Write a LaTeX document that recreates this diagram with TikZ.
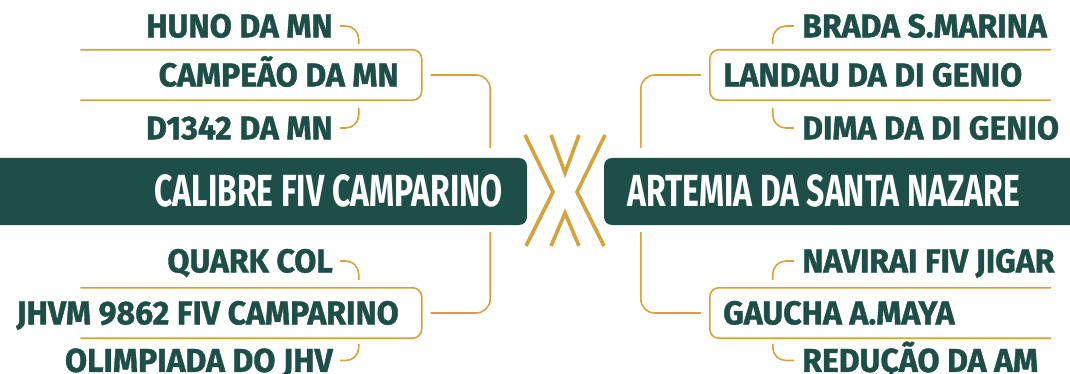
\documentclass[tikz,border=0pt]{standalone}
\usepackage{fontspec}
\setmainfont{Fira Sans}
\newfontfamily\leaffont{Fira Sans}[FakeStretch=0.97, BoldFeatures={FakeBold=1.2}]
\newfontfamily\headfont{Fira Sans}[FakeStretch=0.71]
\usetikzlibrary{positioning}
\definecolor{pine}{HTML}{1D4E47}
\definecolor{ochre}{HTML}{D8A23B}

\begin{document}
\begin{tikzpicture}[x=1pt, y=-1pt,
    head/.style={fill=pine, rounded corners=8pt, minimum height=67pt, inner sep=0},
    headtext/.style={text=white, font=\headfont\bfseries\fontsize{45}{45}\selectfont, inner sep=0, text height=31pt, text depth=0pt},
    leaf/.style={text=pine, font=\leaffont\bfseries\fontsize{33}{33}\selectfont, inner sep=0, text height=22.7pt, text depth=0pt},
    frame/.style={minimum width=341pt, minimum height=50pt, inner sep=0},
    rim/.style={draw=ochre, line width=1.6pt, rounded corners=9pt},
    link/.style={draw=ochre, line width=1.6pt, rounded corners=14pt},
    hook/.style={draw=ochre, line width=1.6pt, rounded corners=13pt},
    cross/.style={draw=ochre, line width=3.6pt, line join=miter}]
    \useasboundingbox (0,0) rectangle (1070,374);

    % main boxes
    \node[head, minimum width=547pt](calibrebox) at (253.5,191.5){};
    \node[headtext, anchor=east](calibre) at (503,191.5){CALIBRE FIV CAMPARINO};
    \node[head, minimum width=486pt](artemiabox) at (847,191.5){};
    \node[headtext, anchor=west](artemia) at (627,191.5){ARTEMIA DA SANTA NAZARE};

    % X in the middle
    \begin{scope}[shift={(565,191)}]
        \foreach \s in {1,-1}{
            \draw[cross, xscale=\s](-40,-56)--(-12,1)--(-39,55);
        }
        \draw[cross](-14,-56)--(0,-18)--(14,-56);
        \draw[cross](-14,55)--(0,22)--(14,55);
    \end{scope}

    % left side
    \node[frame](campeaoframe) at (251,75){};
    \draw[rim](campeaoframe.north west)-|(campeaoframe.south east)--(campeaoframe.south west);
    \node[leaf, anchor=east](campeao) at (399,75){CAMPEÃO DA MN};
    \node[leaf, anchor=east](huno) at (333,26){HUNO DA MN};
    \node[leaf, anchor=east](d1342) at (333,128){D1342 DA MN};
    \draw[hook]([xshift=7pt]huno.east)-|([xshift=-63pt, yshift=6pt]campeaoframe.north east);
    \draw[hook]([xshift=7pt]d1342.east)-|([xshift=-63pt, yshift=-8pt]campeaoframe.south east);
    \draw[link]([xshift=9pt]campeaoframe.east)-|([xshift=-37pt, yshift=10pt]calibrebox.north east);

    \node[frame](jhvmframe) at (251,313){};
    \draw[rim](jhvmframe.north west)-|(jhvmframe.south east)--(jhvmframe.south west);
    \node[leaf, anchor=east](jhvm) at (399,313){JHVM 9862 FIV CAMPARINO};
    \node[leaf, anchor=east](quark) at (333,261){QUARK COL};
    \node[leaf, anchor=east](olimpiada) at (333,360.5){OLIMPIADA DO JHV};
    \draw[hook]([xshift=7pt]quark.east)-|([xshift=-63pt, yshift=8pt]jhvmframe.north east);
    \draw[hook]([xshift=7pt]olimpiada.east)-|([xshift=-63pt, yshift=-6pt]jhvmframe.south east);
    \draw[link]([xshift=9pt]jhvmframe.east)-|([xshift=-37pt, yshift=-7pt]calibrebox.south east);

    % right side
    \node[frame](landauframe) at (880.5,75){};
    \draw[rim](landauframe.north east)-|(landauframe.south west)--(landauframe.south east);
    \node[leaf, anchor=west](landau) at (723,75){LANDAU DA DI GENIO};
    \node[leaf, anchor=west](brada) at (802,26){BRADA S.MARINA};
    \node[leaf, anchor=west](dima) at (802,128){DIMA DA DI GENIO};
    \draw[hook]([xshift=-8pt]brada.west)-|([xshift=63pt, yshift=6pt]landauframe.north west);
    \draw[hook]([xshift=-8pt]dima.west)-|([xshift=63pt, yshift=-8pt]landauframe.south west);
    \draw[link]([xshift=-9pt]landauframe.west)-|([xshift=37pt, yshift=10pt]artemiabox.north west);

    \node[frame](gauchaframe) at (880.5,313){};
    \draw[rim](gauchaframe.north east)-|(gauchaframe.south west)--(gauchaframe.south east);
    \node[leaf, anchor=west](gaucha) at (723,313){GAUCHA A.MAYA};
    \node[leaf, anchor=west](navirai) at (802,261){NAVIRAI FIV JIGAR};
    \node[leaf, anchor=west](reducao) at (802,360.5){REDUÇÃO DA AM};
    \draw[hook]([xshift=-8pt]navirai.west)-|([xshift=63pt, yshift=8pt]gauchaframe.north west);
    \draw[hook]([xshift=-8pt]reducao.west)-|([xshift=63pt, yshift=-6pt]gauchaframe.south west);
    \draw[link]([xshift=-9pt]gauchaframe.west)-|([xshift=37pt, yshift=-7pt]artemiabox.south west);
\end{tikzpicture}
\end{document}
